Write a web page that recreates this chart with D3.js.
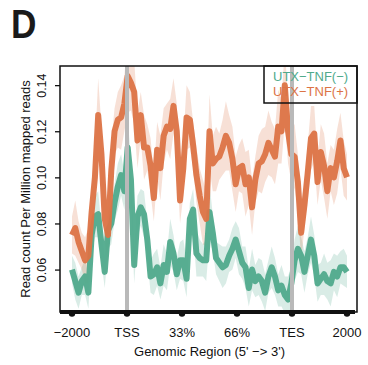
<!DOCTYPE html>
<html>
<head>
<meta charset="utf-8">
<script src="https://cdn.jsdelivr.net/npm/d3@7"></script>
<style>
  body { margin: 0; background: #fff; }
  text { font-family: "Liberation Sans", Arial, sans-serif; }
</style>
</head>
<body>
<div id="chart"></div>
<script>
'use strict';

// x tick positions (percent of profile) and their labels
var tickPos = [0, 20, 40, 60, 80, 100];
var tickLabels = ['\u22122000', 'TSS', '33%', '66%', 'TES', '2000'];
var yTicks = [0.06, 0.08, 0.10, 0.12, 0.14];
var markers = [20, 80]; // TSS, TES

var seriesNames = ['UTX\u2212TNF(\u2212)', 'UTX\u2212TNF(+)'];

// UTX-TNF(-) mean profile
var tnfMinus = [
  .060, .055, .050, .055, .057, .050, .075, .083, .084, .071,
  .059, .077, .080, .089, .096, .101, .094, .113, .099, .062,
  .083, .087, .084, .073, .057, .058, .061, .054, .062, .059,
  .072, .067, .058, .064, .064, .056, .082, .086, .067, .065,
  .064, .064, .085, .076, .065, .063, .061, .062, .066, .069,
  .073, .068, .063, .061, .052, .060, .055, .057, .055, .050,
  .057, .061, .057, .051, .053, .049, .047, .054, .064, .069,
  .066, .059, .066, .073, .066, .054, .056, .058, .055, .054,
  .059, .057, .061, .061, .059
];
var tnfMinusErr = [
  .006, .008, .007, .006, .008, .007, .008, .009, .010, .008,
  .007, .008, .009, .008, .010, .009, .008, .012, .010, .008,
  .009, .008, .010, .008, .007, .009, .008, .007, .009, .008,
  .010, .008, .007, .008, .009, .008, .007, .009, .010, .008,
  .007, .009, .012, .008, .007, .008, .009, .008, .007, .009,
  .008, .010, .007, .009, .008, .009, .007, .008, .009, .008,
  .007, .009, .008, .007, .009, .008, .010, .008, .009, .010,
  .008, .009, .008, .010, .009, .008, .007, .009, .008, .010,
  .008, .009, .007, .008, .007
];

// UTX-TNF(+) mean profile
var tnfPlus = [
  .075, .078, .072, .068, .064, .066, .085, .100, .127, .110,
  .082, .075, .103, .120, .125, .126, .132, .144, .141, .137,
  .116, .127, .113, .113, .105, .091, .112, .104, .118, .122,
  .121, .131, .120, .090, .104, .126, .125, .114, .101, .092,
  .085, .082, .120, .106, .108, .109, .113, .118, .115, .108,
  .097, .104, .105, .097, .100, .087, .099, .106, .107, .110,
  .115, .112, .109, .122, .120, .140, .120, .110, .109, .098,
  .076, .088, .102, .117, .119, .098, .111, .105, .094, .104,
  .100, .107, .116, .104, .100
];
var tnfPlusErr = [
  .008, .012, .009, .008, .010, .012, .010, .012, .016, .012,
  .010, .012, .012, .010, .012, .014, .012, .016, .012, .014,
  .012, .010, .014, .010, .012, .010, .012, .014, .012, .010,
  .013, .012, .012, .010, .012, .014, .012, .010, .012, .012,
  .014, .012, .016, .012, .014, .010, .012, .015, .012, .014,
  .012, .010, .012, .014, .012, .012, .010, .012, .014, .012,
  .014, .012, .012, .016, .014, .016, .014, .012, .014, .012,
  .012, .010, .012, .014, .012, .010, .012, .014, .012, .010,
  .012, .014, .012, .012, .010
];

var colors = ['#50aa8c', '#dc7346'];

var width = 368, height = 365;
var plot = { left: 60, top: 66, right: 357, bottom: 312 };

var svg = d3.select('#chart').append('svg')
  .attr('width', width)
  .attr('height', height);

var n = tnfMinus.length;
var xData = d3.scaleLinear().domain([0, 100]).range([72, 347]);
var yData = d3.scaleLinear().domain([0.0416, 0.1483]).range([plot.bottom, plot.top]);
var xOf = function(d, i) { return xData(i * 100 / (n - 1)); };

svg.append('defs').append('clipPath').attr('id', 'clip')
  .append('rect')
  .attr('x', plot.left).attr('y', plot.top)
  .attr('width', plot.right - plot.left)
  .attr('height', plot.bottom - plot.top);

var series = [
  { name: seriesNames[0], mean: tnfMinus, err: tnfMinusErr, color: colors[0] },
  { name: seriesNames[1], mean: tnfPlus, err: tnfPlusErr, color: colors[1] }
];

var area = function(s) {
  return d3.area()
    .x(xOf)
    .y0(function(d, i) { return yData(d - s.err[i]); })
    .y1(function(d, i) { return yData(d + s.err[i]); })(s.mean);
};
var line = d3.line().x(xOf).y(function(d) { return yData(d); });

var g = svg.append('g').attr('clip-path', 'url(#clip)');

g.selectAll('path.ribbon')
  .data(series)
  .enter()
  .append('path')
  .attr('class', 'ribbon')
  .attr('d', area)
  .attr('fill', function(s) { return s.color; })
  .attr('fill-opacity', 0.22);

g.selectAll('path.line')
  .data(series)
  .enter()
  .append('path')
  .attr('class', 'line')
  .attr('d', function(s) { return line(s.mean); })
  .attr('fill', 'none')
  .attr('stroke', function(s) { return s.color; })
  .attr('stroke-width', 6)
  .attr('stroke-linejoin', 'round')
  .attr('stroke-opacity', 0.95);

// TSS / TES markers
g.selectAll('line.marker')
  .data(markers)
  .enter()
  .append('line')
  .attr('class', 'marker')
  .attr('x1', xData).attr('x2', xData)
  .attr('y1', plot.top).attr('y2', plot.bottom)
  .attr('stroke', '#b9b9b9')
  .attr('stroke-width', 4);

// frame
svg.append('rect')
  .attr('x', plot.left).attr('y', plot.top)
  .attr('width', plot.right - plot.left)
  .attr('height', plot.bottom - plot.top)
  .attr('fill', 'none')
  .attr('stroke', '#111')
  .attr('stroke-width', 1.5);

// x axis: thick bar with round ticks
var xAxis = svg.append('g').attr('class', 'xAxis');
xAxis.append('line')
  .attr('x1', plot.left).attr('x2', plot.right - 2)
  .attr('y1', plot.bottom).attr('y2', plot.bottom)
  .attr('stroke', '#111').attr('stroke-width', 4);
xAxis.selectAll('circle')
  .data(tickPos)
  .enter()
  .append('circle')
  .attr('cx', xData).attr('cy', plot.bottom + 1.5)
  .attr('r', 3.2)
  .attr('fill', '#111');
xAxis.selectAll('text')
  .data(tickPos)
  .enter()
  .append('text')
  .attr('x', xData).attr('y', 337)
  .attr('text-anchor', 'middle')
  .attr('font-size', 13)
  .attr('fill', '#111')
  .text(function(d, i) { return tickLabels[i]; });

svg.append('text')
  .attr('x', (xData(0) + xData(100)) / 2).attr('y', 356)
  .attr('text-anchor', 'middle')
  .attr('font-size', 13)
  .attr('fill', '#111')
  .text("Genomic Region (5' \u2212> 3')");

// y axis
var yAxis = d3.axisLeft(yData)
  .tickValues(yTicks)
  .tickSize(5)
  .tickFormat(d3.format('.2f'));
var yg = svg.append('g').attr('class', 'yAxis')
  .attr('transform', 'translate(' + plot.left + ',0)')
  .call(yAxis);
yg.select('.domain').remove();
yg.selectAll('.tick line').attr('stroke', '#111').attr('stroke-width', 1.3);
yg.selectAll('.tick text')
  .attr('font-size', 12.5)
  .attr('fill', '#111')
  .attr('font-family', '"Liberation Sans", Arial, sans-serif')
  .attr('x', null).attr('dy', null)
  .attr('text-anchor', 'middle')
  .attr('transform', 'translate(-14,0) rotate(-90)');

svg.append('text')
  .attr('transform', 'translate(30,' + (plot.top + plot.bottom) / 2 + ') rotate(-90)')
  .attr('text-anchor', 'middle')
  .attr('font-size', 13)
  .attr('fill', '#111')
  .text('Read count Per Million mapped reads');

// legend
svg.append('rect')
  .attr('x', 264).attr('y', plot.top)
  .attr('width', plot.right - 264).attr('height', 37)
  .attr('fill', 'none')
  .attr('stroke', '#111')
  .attr('stroke-width', 1.5);
svg.selectAll('text.legend')
  .data(series)
  .enter()
  .append('text')
  .attr('class', 'legend')
  .attr('x', 273)
  .attr('y', function(d, i) { return 80.5 + i * 15.5; })
  .attr('font-size', 13)
  .attr('fill', function(s) { return s.color; })
  .text(function(s) { return s.name; });

// panel letter
svg.append('text')
  .attr('transform', 'translate(11,38) scale(0.88,1)')
  .attr('font-size', 40)
  .attr('font-weight', 'bold')
  .attr('fill', '#1a1a1a')
  .text('D');
</script>
</body>
</html>
